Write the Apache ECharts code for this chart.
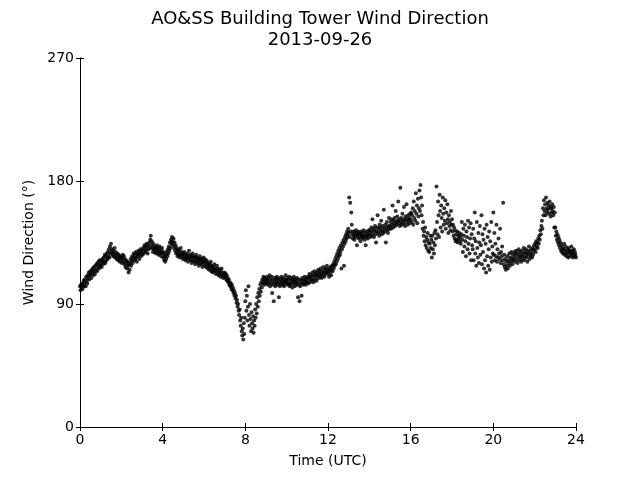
<!DOCTYPE html>
<html><head><meta charset="utf-8">
<script src="https://cdn.jsdelivr.net/npm/echarts@6/dist/echarts.min.js"></script>
<style>html,body{margin:0;padding:0;background:#fff}#c{width:640px;height:480px}</style>
</head><body><div id="c"></div>
<script>
// Wind direction (degrees), sampled every 1.5 minutes (0.025 h), one row per hour
const sampleStepHours = 0.025;
const hour00 = [103,100,104,102,105,101,104,107,103,108,106,103,110,107,105,111,109,113,108,111,114,112,109,115,113,116,111,117,114,112,118,115,119,114,120,117,121,116,122,118];
const hour01 = [119,122,117,121,123,119,124,121,126,120,125,122,127,123,128,125,130,124,132,127,134,128,130,126,129,125,127,131,124,128,126,123,127,125,122,126,124,121,125,123];
const hour02 = [124,120,123,126,121,125,119,123,117,122,120,116,121,118,113,119,115,120,123,118,122,125,120,124,127,122,126,123,128,124,121,127,125,129,126,123,128,130,125,127];
const hour03 = [129,126,131,127,130,133,128,132,129,134,131,127,133,130,135,131,137,140,133,136,131,128,134,130,132,128,131,127,130,133,128,131,126,129,132,127,130,125,128,131];
const hour04 = [127,124,128,122,125,121,126,123,128,125,130,127,132,129,135,131,137,134,139,136,133,138,131,135,129,133,127,131,128,125,130,126,129,124,127,131,125,128,126,123];
const hour05 = [127,124,128,125,122,126,123,127,124,121,125,129,123,126,122,125,120,124,127,122,125,121,124,119,123,126,121,124,120,123,118,122,125,120,123,119,122,117,121,124];
const hour06 = [120,123,118,121,117,122,119,116,120,118,115,119,117,121,114,118,116,113,117,115,119,114,116,112,115,118,113,116,111,114,112,115,110,113,116,111,113,109,112,110];
const hour07 = [113,110,112,108,111,107,109,106,108,104,106,103,105,101,104,100,102,98,100,96,98,94,96,91,93,88,90,85,82,86,78,74,80,70,67,72,64,76,68,80];
const hour08 = [92,100,85,96,78,88,103,82,74,90,79,70,84,76,72,81,69,78,74,86,80,90,83,95,88,98,92,101,96,104,99,106,102,108,105,110,107,104,109,106];
const hour09 = [108,105,110,107,104,109,106,111,103,108,105,110,98,107,104,92,109,106,103,108,105,110,107,104,109,95,106,103,108,105,110,107,104,109,106,103,108,105,111,107];
const hour10 = [106,109,104,108,105,110,103,107,104,109,106,102,108,105,110,107,103,108,106,104,109,106,95,104,108,92,103,107,105,96,109,106,104,108,105,110,107,104,109,106];
const hour11 = [107,110,105,109,112,106,110,108,111,107,113,109,106,111,114,108,112,110,107,113,111,115,109,112,114,110,116,112,109,114,111,117,113,110,115,112,116,113,118,114];
const hour12 = [112,115,110,116,113,117,111,115,118,114,119,116,121,118,123,119,125,121,127,123,129,125,131,126,128,133,116,130,135,132,137,118,134,139,136,141,138,143,140,145];
const hour13 = [142,168,139,164,143,157,148,141,138,143,140,137,142,139,144,141,133,140,143,138,142,139,141,136,143,140,138,142,139,144,140,137,142,133,139,143,140,138,141,144];
const hour14 = [141,144,139,143,146,140,152,142,145,139,144,147,141,135,143,146,155,142,145,140,148,143,146,151,141,144,147,142,159,145,143,148,135,146,150,144,142,147,153,145];
const hour15 = [147,150,145,152,148,162,146,151,149,153,147,158,150,148,154,151,165,149,152,147,175,150,153,148,156,151,149,161,152,147,154,150,163,152,148,155,151,153,149,156];
const hour16 = [152,157,150,155,160,148,165,153,158,151,171,156,162,149,167,154,160,173,158,177,168,155,162,145,150,140,143,136,146,133,139,131,137,142,129,135,128,134,140,131];
const hour17 = [137,124,140,130,135,127,142,133,144,138,176,150,141,165,155,139,170,158,146,162,153,143,168,156,148,160,151,166,145,157,149,163,152,142,155,147,150,144,158,148];
const hour18 = [152,143,148,140,146,138,144,136,141,137,143,135,140,138,142,136,139,134,141,150,137,128,145,140,132,148,136,125,143,139,130,151,134,146,127,138,149,122,141,133];
const hour19 = [130,145,122,138,157,127,136,118,150,131,124,142,120,135,147,126,133,155,119,141,128,137,116,145,122,134,113,148,125,139,118,130,143,115,136,124,150,121,132,127];
const hour20 = [157,126,142,122,134,125,148,121,130,124,138,127,123,145,120,128,125,132,122,164,119,126,117,123,115,121,118,125,116,122,120,127,118,124,121,128,123,119,126,122];
const hour21 = [124,128,121,126,129,123,127,120,125,130,122,128,124,126,121,129,125,123,127,131,122,128,125,130,124,127,121,129,126,132,123,128,125,130,127,124,131,126,129,133];
const hour22 = [130,134,128,136,132,135,131,138,134,140,137,144,141,147,151,145,160,155,166,158,163,155,168,160,157,164,159,162,156,165,161,154,160,157,163,158,155,161,146,157];
const hour23 = [146,140,143,137,141,135,139,133,137,131,135,129,133,128,131,127,130,134,126,129,132,127,125,130,128,124,131,127,129,125,128,132,126,129,124,127,130,125,128,126];
const hour24 = [124];

const xTicks = [0,4,8,12,16,20,24];
const yTicks = [0,90,180,270];

const allHours = [hour00,hour01,hour02,hour03,hour04,hour05,hour06,hour07,hour08,hour09,hour10,hour11,
  hour12,hour13,hour14,hour15,hour16,hour17,hour18,hour19,hour20,hour21,hour22,hour23,hour24];
const points = [];
allHours.forEach((arr, h) => arr.forEach((v, i) => points.push([h + i * sampleStepHours, v])));

const font = 'DejaVu Sans';
const chart = echarts.init(document.getElementById('c'), null, {renderer: 'canvas'});
const line = {show: true, lineStyle: {color: '#000', width: 1}};
const tickIn = {show: true, inside: true, length: 4, lineStyle: {color: '#000', width: 1}};
chart.setOption({
  animation: false,
  backgroundColor: '#fff',
  title: {
    text: 'AO&SS Building Tower Wind Direction\n2013-09-26',
    left: 'center', top: 4,
    textStyle: {fontFamily: font, fontSize: 18, fontWeight: 'normal', color: '#000', lineHeight: 21}
  },
  grid: {left: 80, right: 64, top: 58, bottom: 53, containLabel: false},
  xAxis: [{
    type: 'value', min: xTicks[0], max: xTicks[xTicks.length - 1], interval: 4, position: 'bottom',
    name: 'Time (UTC)', nameLocation: 'middle', nameGap: 27,
    nameTextStyle: {fontFamily: font, fontSize: 14, color: '#000'},
    axisLine: line, axisTick: tickIn, splitLine: {show: false},
    axisLabel: {fontFamily: font, fontSize: 14, color: '#000', margin: 6}
  }, {
    type: 'value', min: xTicks[0], max: xTicks[xTicks.length - 1], interval: 4, position: 'top',
    axisLine: line, axisTick: tickIn, splitLine: {show: false}, axisLabel: {show: false}
  }],
  yAxis: [{
    type: 'value', min: yTicks[0], max: yTicks[yTicks.length - 1], interval: 90, position: 'left',
    name: 'Wind Direction (°)', nameLocation: 'middle', nameGap: 41,
    nameTextStyle: {fontFamily: font, fontSize: 14, color: '#000'},
    axisLine: line, axisTick: tickIn, splitLine: {show: false},
    axisLabel: {fontFamily: font, fontSize: 14, color: '#000', margin: 6}
  }, {
    type: 'value', min: yTicks[0], max: yTicks[yTicks.length - 1], interval: 90, position: 'right',
    axisLine: line, axisTick: tickIn, splitLine: {show: false}, axisLabel: {show: false}
  }],
  series: [{
    type: 'scatter', data: points, symbol: 'circle', symbolSize: 4,
    itemStyle: {color: '#000'}, xAxisIndex: 0, yAxisIndex: 0
  }]
});
</script></body></html>
